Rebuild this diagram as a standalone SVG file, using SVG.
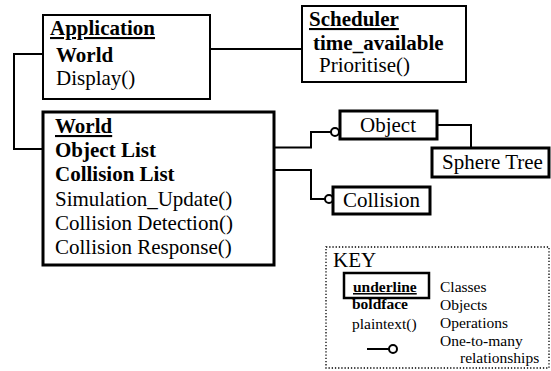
<svg xmlns="http://www.w3.org/2000/svg" width="551" height="371" viewBox="0 0 551 371" font-family="'Liberation Serif', 'Times New Roman', Times, 'DejaVu Serif', serif">
<style>
text{font-family:"Liberation Serif","Times New Roman",Times,"DejaVu Serif",serif;fill:#000}
.t{font-size:21px}
.b{font-weight:bold}
.u{text-decoration:underline}
.k{font-size:15.5px}
.box{fill:#fff;stroke:#000}
.thin{stroke-width:2}
.thick{stroke-width:3}
.conn{fill:none;stroke:#000;stroke-width:2}
.ring{fill:#fff;stroke:#000;stroke-width:2}
</style>
<rect width="551" height="371" fill="#fff"/>
<g id="connectors">
<path class="conn" d="M210 49H302"/>
<path class="conn" d="M43 54H14V149H43"/>
<path class="conn" d="M167 147.5H311V132H331"/>
<circle class="ring" cx="335" cy="132" r="4"/>
<path class="conn" d="M180 170H311V199H325"/>
<circle class="ring" cx="329" cy="199" r="4"/>
<path class="conn" d="M438 125H471V148"/>
</g>
<g id="application">
<rect class="box thin" x="43" y="15" width="167" height="84"/>
<text class="t b u" x="50" y="35">Application</text>
<text class="t b" x="56" y="62">World</text>
<text class="t" x="56" y="85">Display()</text>
</g>
<g id="scheduler">
<rect class="box thin" x="302" y="6" width="164" height="76"/>
<text class="t b u" x="309" y="26">Scheduler</text>
<text class="t b" x="313" y="50">time_available</text>
<text class="t" x="319" y="72">Prioritise()</text>
</g>
<g id="world">
<rect class="box thick" x="43" y="112" width="231" height="153"/>
<text class="t b u" x="55" y="133">World</text>
<text class="t b" x="55" y="157">Object List</text>
<text class="t b" x="55" y="181">Collision List</text>
<text class="t" x="55" y="206">Simulation_Update()</text>
<text class="t" x="55" y="230">Collision Detection()</text>
<text class="t" x="55" y="254">Collision Response()</text>
</g>
<g id="object">
<rect class="box thick" x="340" y="111" width="97" height="28"/>
<text class="t" x="360" y="132">Object</text>
</g>
<g id="sphere-tree">
<rect class="box thick" x="432" y="148" width="117" height="29"/>
<text class="t" x="442" y="169">Sphere Tree</text>
</g>
<g id="collision">
<rect class="box thick" x="333" y="187" width="97" height="27"/>
<text class="t" x="343" y="207">Collision</text>
</g>
<g id="key">
<rect x="326" y="247" width="223" height="121" fill="none" stroke="#000" stroke-width="1.3" stroke-dasharray="1.3 1.9"/>
<text class="t" x="333" y="267">KEY</text>
<rect class="box" x="344" y="273" width="85" height="25" stroke-width="2.5"/>
<text class="k b u" x="353" y="292">underline</text>
<text class="k b" x="352" y="309">boldface</text>
<text class="k" x="352" y="329">plaintext()</text>
<path class="conn" d="M367 349H389"/>
<circle class="ring" cx="393" cy="349" r="4"/>
<text class="k" x="440" y="292">Classes</text>
<text class="k" x="440" y="310">Objects</text>
<text class="k" x="440" y="328">Operations</text>
<text class="k" x="440" y="346">One-to-many</text>
<text class="k" x="460" y="363">relationships</text>
</g>
</svg>
